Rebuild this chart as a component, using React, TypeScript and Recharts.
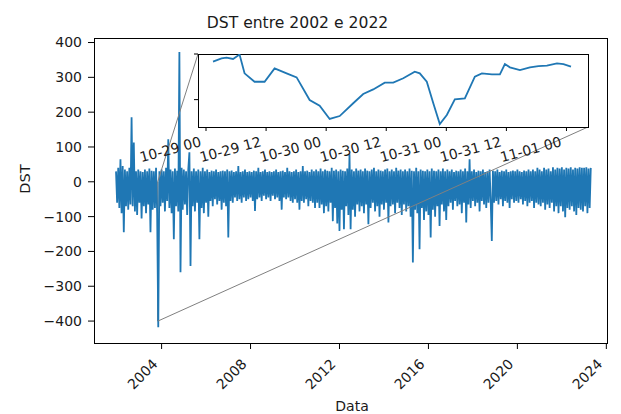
import React from 'react';
import { LineChart, Line, XAxis, YAxis, ReferenceArea, ReferenceLine } from 'recharts';

// ---- main series: DST, regular time grid (decimal years) ----
const dstStartYear = 2001.95;
const dstStepYears = 0.05;
const dstValues = [
  30, -60, 40, -75, 65, -90, 45, -145, 35, -70, 30, -80, 40, -65, 185, -70, 113, -85, 30, -95,
  35, -60, 30, -105, 28, -70, 35, -90, 30, -65, 38, -145, 32, -80, 30, -75, 40, -90, -418, 30,
  -70, 35, -60, 30, -85, 40, -55, 122, -75, 35, -90, 30, -165, 38, -70, 32, -85, 373, -260, 40,
  -80, 35, -65, 30, -95, 35, 85, -242, 30, -70, 38, -85, 30, -60, 35, -165, 30, -75, 40, -90,
  30, -60, 35, -100, 28, -55, 32, -70, 30, -50, 35, -65, 28, -55, 30, -80, 32, -60, 30, -70,
  35, -160, 30, -55, 32, -60, 28, -45, 30, -55, 45, -50, 28, -60, 30, -45, 35, -55, 28, -50,
  30, -45, 28, -55, 32, -84, 30, -50, 40, -45, 28, -55, 30, -40, 35, -50, 28, -45, 30, -55,
  28, -40, 30, -50, 35, -45, 28, -55, 30, -80, 32, -45, 28, -50, 40, -45, 30, -55, 28, -60,
  30, -50, 35, -60, 28, -80, 30, -55, 45, -60, 30, -50, 32, -70, 28, -55, 35, -60, 30, -75,
  35, -60, 30, -75, 38, -65, 30, -90, 35, -70, 32, -85, 30, -60, 40, -113, 32, -75, 35, -120,
  30, -141, 35, -80, 32, -136, 30, -70, 38, -95, 79, -136, 35, -80, 30, -100, 38, -65, 32, -85,
  35, -70, 30, -90, 38, -65, 32, -122, 30, -75, 35, -60, 40, -85, 30, -70, 35, -100, 32, -65,
  30, -80, 35, -60, 38, -117, 30, -70, 35, -65, 30, -90, 40, -60, 32, -75, 35, -95, 30, -65,
  35, -85, 30, -70, 38, -100, 32, -232, 30, -80, 40, -90, 30, -194, 35, -75, 32, -110, 30, -85,
  35, -95, 30, -160, 38, -80, 32, -100, 30, -70, 35, -127, 30, -65, 38, -85, 30, -110, 35, -70,
  30, -60, 35, -80, 28, -55, 32, -70, 30, -65, 35, -90, 30, -60, 38, -117, 30, -65, 65, -75,
  30, -55, 35, -70, 28, -60, 32, -85, 30, -55, 35, -65, 28, -75, 30, -60, 35, -55, -170, 32,
  -60, 30, -55, 35, -65, 28, -50, 32, -70, 30, -55, 35, -60, 28, -75, 30, -50, 32, -60, 30,
  -55, 35, -60, 30, -50, 28, -65, 32, -55, 30, -70, 35, -60, 30, -55, 35, -75, 30, -60, 40,
  -65, 35, -70, 30, -60, 40, -80, 35, -65, 38, -75, 30, -60, 42, -85, 35, -70, 40, -90, 38,
  -70, 42, -85, 35, -102, 40, -75, 38, -80, 42, -70, 35, -85, 40, -95, 38, -75, 42, -80, 40,
  -85, 40, -70, 42, -90, 38, -75, 40,
];
const yearTicks = [2004, 2008, 2012, 2016, 2020, 2024];
const dstTicks = [-400, -300, -200, -100, 0, 100, 200, 300, 400];

// ---- inset: storm of late October 2003 (hours from 10-29 00:00) ----
const stormHours = [
  1.4, 3.1, 4.1, 5.4, 6.7, 7.7, 9.7, 11.7, 13.7, 16.1, 18.1, 20.7, 22.7, 24.7, 26.7, 29.4,
  31.4, 33.4, 35.7, 37.4, 39.4, 41.7, 42.7, 44.1, 45.4, 46.7, 48.1, 49.7, 51.7, 53.7, 55.1,
  57.1, 58.7, 59.7, 60.7, 62.7, 64.7, 66.4, 68.1, 70.1, 71.4, 72.9,
];
const stormValues = [
  -42, -24, -20, -27, -3, -106, -152, -152, -79, -106, -128, -252, -283, -356, -340, -270,
  -219, -194, -157, -157, -133, -97, -106, -152, -270, -384, -334, -248, -243, -124, -106,
  -112, -112, -55, -73, -88, -73, -66, -64, -51, -55, -69,
];
const stormTickHours = [0, 12, 24, 36, 48, 60, 72];
const stormTickLabels = ['10-29 00', '10-29 12', '10-30 00', '10-30 12', '10-31 00', '10-31 12', '11-01 00'];

// zoomed region in main-chart data units, and inset corners in main-chart data units
const zoomX = [2003.8245, 2003.8333];
const zoomY = [-400, 0];
const insetCornerTL = { x: 2005.637, y: 367 };
const insetCornerBR = { x: 2023.176, y: 157.4 };

const mainData = dstValues.map((v, i) => ({ t: dstStartYear + i * dstStepYears, v }));
const stormData = stormHours.map((h, i) => ({ h, v: stormValues[i] }));

const FONT = 'DejaVu Sans';
const TXT = '#1a1a1a';

const fmtMinus = (v: number) => (v < 0 ? '\u2212' + Math.abs(v) : String(v));

const MainXTick = (props: any) => {
  const { x, payload } = props;
  const ex = x - 3;
  const ey = 365;
  return (
    <text x={ex} y={ey} textAnchor="end" fontSize={14} fontFamily={FONT} fill={TXT}
      transform={`rotate(-45, ${ex}, ${ey})`}>
      {payload.value}
    </text>
  );
};

const InsetXTick = (props: any) => {
  const { x, payload } = props;
  const idx = stormTickHours.indexOf(payload.value);
  const ex = x - 4;
  const ey = 146;
  return (
    <text x={ex} y={ey} textAnchor="end" fontSize={14} fontFamily={FONT} fill={TXT}
      transform={`rotate(-15, ${ex}, ${ey})`}>
      {idx >= 0 ? stormTickLabels[idx] : ''}
    </text>
  );
};

const NoTick = () => <g />;

export default function App() {
  return (
    <div style={{ position: 'absolute', left: 0, top: 0, width: 621, height: 414, background: '#fff', fontFamily: FONT }}>
      {/* main axes frame */}
      <div style={{ position: 'absolute', left: 94, top: 38, width: 514, height: 306, border: '1px solid #000', boxSizing: 'border-box' }} />
      <div style={{ position: 'absolute', left: 0, top: 0 }}>
        <LineChart width={621} height={414} data={mainData} margin={{ top: 38, right: 14, left: 0, bottom: 0 }}>
          <XAxis dataKey="t" type="number" domain={[2000.96, 2024.03]} ticks={yearTicks} allowDataOverflow
            height={71} axisLine={false} tickSize={6} tickLine={{ stroke: '#000' }} tick={<MainXTick />} interval={0} />
          <YAxis type="number" domain={[-463, 413]} ticks={dstTicks} allowDataOverflow width={94}
            axisLine={false} tickSize={6} tickMargin={6} tickLine={{ stroke: '#000' }} interval={0}
            tickFormatter={fmtMinus}
            tick={{ fontSize: 14, fontFamily: FONT, fill: TXT }} />
          <Line dataKey="v" stroke="#1f77b4" strokeWidth={1.8} strokeLinejoin="miter" dot={false} isAnimationActive={false} />
          <ReferenceArea x1={zoomX[0]} x2={zoomX[1]} y1={zoomY[0]} y2={zoomY[1]} stroke="#808080"
            fill="none" fillOpacity={0} ifOverflow="visible" />
          <ReferenceLine segment={[{ x: zoomX[0], y: zoomY[1] }, insetCornerTL]} stroke="#808080" strokeWidth={1} ifOverflow="visible" />
          <ReferenceLine segment={[{ x: zoomX[1], y: zoomY[0] }, insetCornerBR]} stroke="#808080" strokeWidth={1} ifOverflow="visible" />
          <text x={297.5} y={28} textAnchor="middle" fontSize={15.6} fontFamily={FONT} fill={TXT}>DST entre 2002 e 2022</text>
          <text x={352} y={411} textAnchor="middle" fontSize={14} fontFamily={FONT} fill={TXT}>Data</text>
          <text x={30} y={179} textAnchor="middle" fontSize={14.5} fontFamily={FONT} fill={TXT}
            transform="rotate(-90, 30, 179)">DST</text>
        </LineChart>
      </div>
      {/* inset axes background + frame */}
      <div style={{ position: 'absolute', left: 198, top: 54, width: 391, height: 74, background: '#fff', border: '1px solid #000', boxSizing: 'border-box' }} />
      <div style={{ position: 'absolute', left: 0, top: 0 }}>
        <LineChart width={621} height={200} data={stormData} margin={{ top: 54, right: 33, left: 0, bottom: 0 }}>
          <XAxis dataKey="h" type="number" domain={[-1.6, 76.3]} ticks={stormTickHours} allowDataOverflow
            height={73} axisLine={false} tickSize={4} tickLine={{ stroke: '#000' }} tick={<InsetXTick />} interval={0} />
          <YAxis type="number" domain={[-400, 0]} ticks={[0, -250]} allowDataOverflow width={198}
            axisLine={false} tickSize={4} tickLine={{ stroke: '#000' }} tick={<NoTick />} interval={0} />
          <Line dataKey="v" stroke="#1f77b4" strokeWidth={1.8} dot={false} isAnimationActive={false} />
        </LineChart>
      </div>
    </div>
  );
}
